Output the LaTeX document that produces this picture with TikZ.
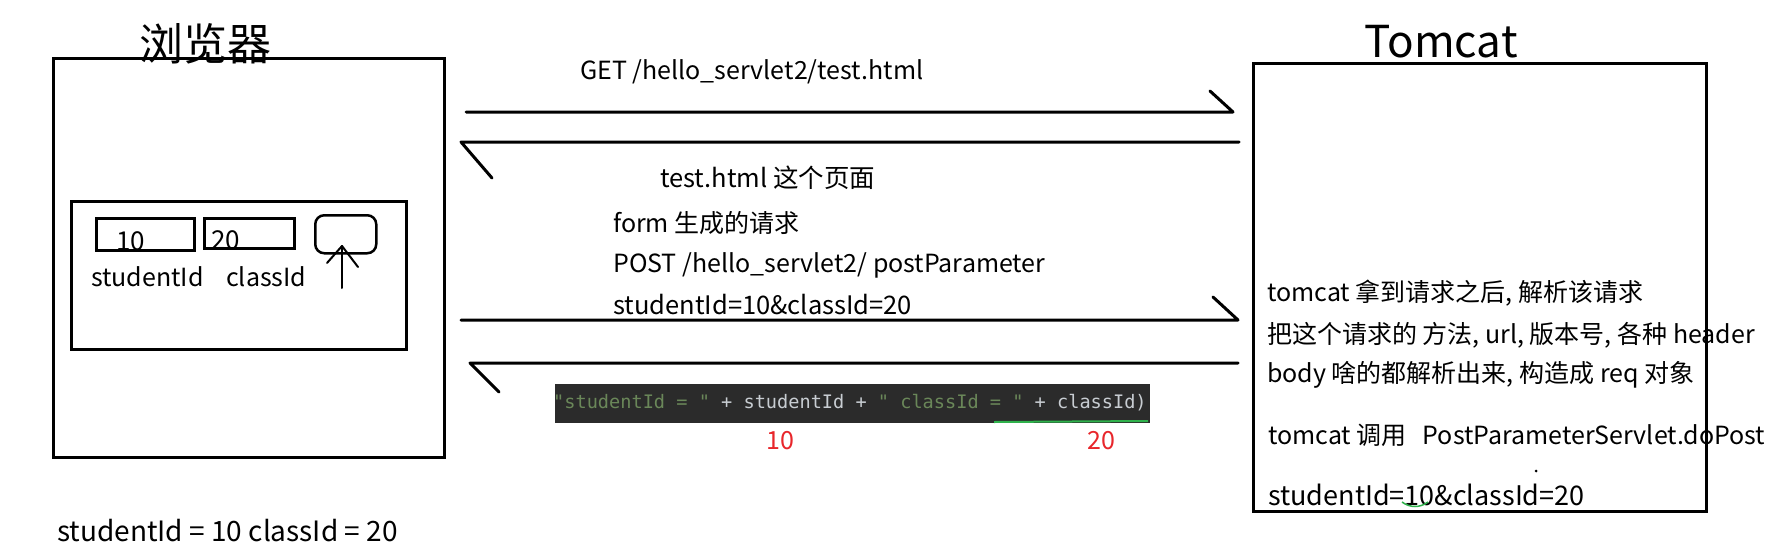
\documentclass[tikz,border=0pt]{standalone}
\usepackage{fontspec}
\setmainfont{Noto Sans CJK SC}
\newfontfamily\codefont{DejaVu Sans Mono}
\definecolor{codebg}{HTML}{2B2B2B}
\definecolor{codestr}{HTML}{6A8759}
\definecolor{codeid}{HTML}{C8CDD2}
\definecolor{numred}{HTML}{E8262B}
\definecolor{markgreen}{HTML}{2FB24C}
\begin{document}
\begin{tikzpicture}[x=1pt,y=-1pt,
  box/.style={draw=black,line width=3pt,inner sep=0pt,anchor=north west},
  conn/.style={draw=black,line width=3pt,line cap=round,line join=round},
  thin/.style={draw=black,line width=2pt,line cap=round,line join=round},
  txt/.style={inner sep=0pt,anchor=west,font=\fontsize{25}{30}\selectfont},
  title/.style={inner sep=0pt,font=\fontsize{44}{50}\selectfont},
]
\useasboundingbox (0,0) rectangle (1789,555);
\fill[white] (0,0) rectangle (1789,555);

% ---------- browser ----------
\node[title] (btitle) at (205,44) {浏览器};
\node[box,minimum width=391pt,minimum height=399pt] (browser) at (52,57) {};
\node[box,minimum width=335pt,minimum height=148pt] (form) at (70,200) {};
\node[box,minimum width=98pt,minimum height=32pt] (f1) at (95,217) {};
\node[box,minimum width=90pt,minimum height=30pt] (f2) at (203,217) {};
\node[box,line width=2.5pt,rounded corners=9pt,minimum width=61pt,minimum height=38pt] (btn) at (314,214) {};
\node[inner sep=0pt,anchor=base west,font=\fontsize{26}{30}\selectfont] (v1) at (116,250) {10};
\node[inner sep=0pt,anchor=base west,font=\fontsize{26}{30}\selectfont] (v2) at (211,249) {20};
\node[txt] (l1) at (91,277) {studentId};
\node[txt] (l2) at (226,277) {classId};
\coordinate (cur0) at (342,288);
\coordinate (cur1) at (342,246);
\coordinate (curl) at (327,263);
\coordinate (curr) at (358,267);
\draw[thin] (cur0) -- (cur1);
\draw[thin] (curl) -- (cur1) -- (curr);
\node[txt,font=\fontsize{28}{32}\selectfont] (res) at (57,531) {studentId = 10 classId = 20};

% ---------- tomcat ----------
\node[title] (ttitle) at (1441,42) {Tomcat};
\node[box,minimum width=453pt,minimum height=448pt] (tomcat) at (1252,62) {};

% ---------- arrows ----------
\coordinate (a1s) at (466,112);
\coordinate (a1e) at (1233,112);
\coordinate (a1b) at (1210,91);
\draw[conn] (a1s) -- (a1e) -- (a1b);

\coordinate (r1s) at (1239,142);
\coordinate (r1e) at (461,142);
\coordinate (r1b) at (492,178);
\draw[conn] (r1s) -- (r1e) -- (r1b);

\coordinate (a2s) at (461,320);
\coordinate (a2e) at (1238,320);
\coordinate (a2b) at (1213,297);
\draw[conn] (a2s) -- (a2e) -- (a2b);

\coordinate (r2s) at (1238,363);
\coordinate (r2e) at (470,363);
\coordinate (r2b) at (499,392);
\draw[conn] (r2s) -- (r2e) -- (r2b);

% ---------- middle texts ----------
\node[txt] (get) at (580,72) {GET /hello\_servlet2/test.html};
\node[txt,font=\fontsize{25.5}{30}\selectfont] (page) at (660,178) {test.html 这个页面};
\node[txt] (formreq) at (613,223) {form 生成的请求};
\node[txt] (post) at (613,265) {POST /hello\_servlet2/ postParameter};
\node[txt,font=\fontsize{25.5}{30}\selectfont] (body) at (613,305) {studentId=10\&classId=20};

% ---------- code snippet ----------
\node[fill=codebg,inner sep=0pt,anchor=north west,minimum width=595pt,minimum height=39pt] (code) at (555,384) {};
\begin{scope}
\clip (555,384) rectangle (1150,423);
\node[inner sep=0pt,anchor=west,font=\codefont\fontsize{18.6}{22}\selectfont] (codetxt) at (553,403)
  {\textcolor{codestr}{"studentId\ =\ "}\textcolor{codeid}{\ +\ studentId\ +\ }\textcolor{codestr}{"\ classId\ =\ "}\textcolor{codeid}{\ +\ classId)}};
\end{scope}
\coordinate (ul0) at (994,422);
\coordinate (ul1) at (1148,421);
\draw[markgreen,line width=2pt] (ul0) -- (ul1);
\node[inner sep=0pt,text=numred,font=\fontsize{25}{30}\selectfont] (n10) at (780,441) {10};
\node[inner sep=0pt,text=numred,font=\fontsize{25}{30}\selectfont] (n20) at (1101,441) {20};

% ---------- tomcat texts ----------
\node[txt] (t1) at (1267,293) {tomcat 拿到请求之后, 解析该请求};
\node[txt] (t2) at (1267,335) {把这个请求的 方法, url, 版本号, 各种 header};
\node[txt] (t3) at (1267,375) {body 啥的都解析出来, 构造成 req 对象};
\node[txt] (t4) at (1268,435) {tomcat 调用\hspace{16pt}PostParameterServlet.doPost};
\node[txt,font=\fontsize{27}{30}\selectfont] (t5) at (1268,495) {studentId=10\&classId=20};
\coordinate (sq0) at (1402,502);
\coordinate (sq1) at (1428,502);
\draw[markgreen,line width=1.5pt] (sq0) .. controls (1410,508) and (1420,508) .. (sq1);
\fill[black] (1536,471) circle (1.5pt);
\end{tikzpicture}
\end{document}
